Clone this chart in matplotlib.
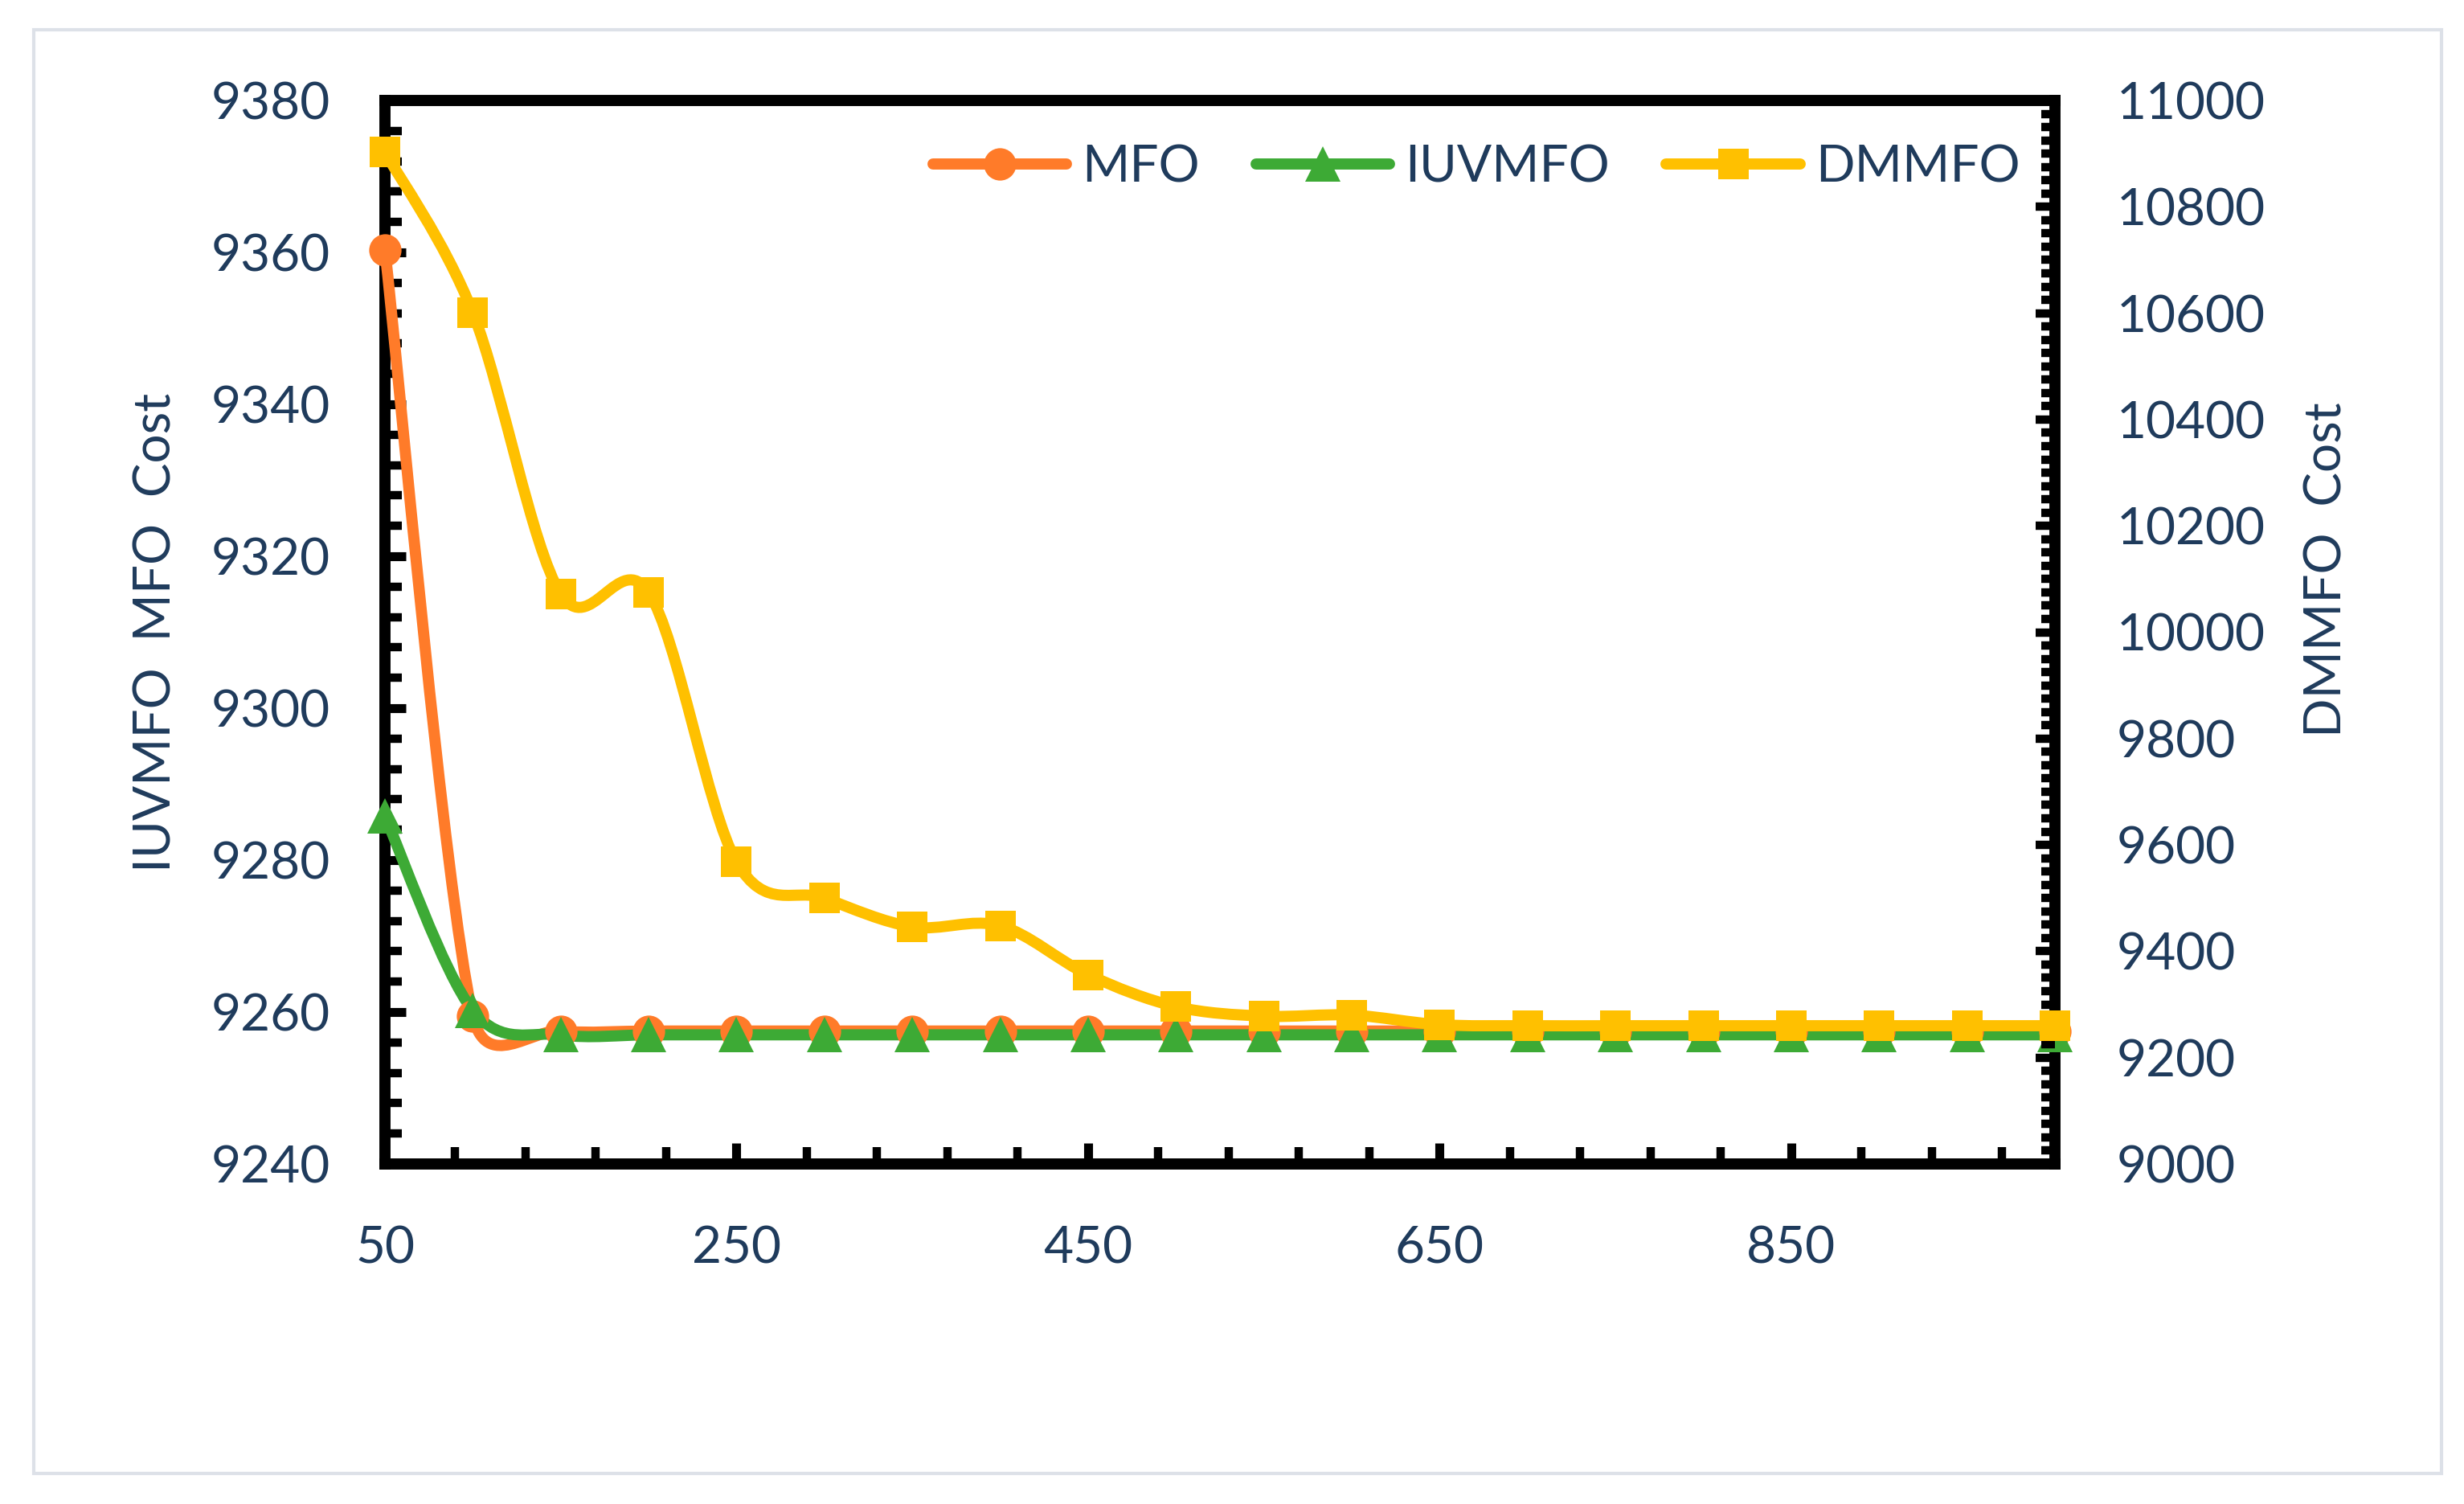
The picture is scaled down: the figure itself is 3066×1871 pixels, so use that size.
import numpy as np
import matplotlib
matplotlib.use("Agg")
import matplotlib.pyplot as plt
from matplotlib.path import Path
from matplotlib.patches import PathPatch, Rectangle
from matplotlib.lines import Line2D
from matplotlib.ticker import MultipleLocator, FixedLocator

plt.rcParams['font.family'] = ['Lato', 'DejaVu Sans']

# data
iters = [50, 100, 150, 200, 250, 300, 350, 400, 450, 500,
         550, 600, 650, 700, 750, 800, 850, 900, 950, 1000]
mfo = [9360.3, 9259.5, 9257.5, 9257.5, 9257.5, 9257.5, 9257.5, 9257.5, 9257.5, 9257.5,
       9257.5, 9257.5, 9257.5, 9257.5, 9257.5, 9257.5, 9257.5, 9257.5, 9257.5, 9257.5]
iuvmfo = [9285.8, 9260.2, 9257.0, 9257.0, 9257.0, 9257.0, 9257.0, 9257.0, 9257.0, 9257.0,
          9257.0, 9257.0, 9257.0, 9257.0, 9257.0, 9257.0, 9257.0, 9257.0, 9257.0, 9257.0]
dmmfo = [10903, 10601, 10072, 10075, 9568, 9500, 9446, 9448, 9356, 9296,
         9278, 9280, 9262, 9260, 9260, 9260, 9260, 9260, 9260, 9260]

txt = '#1F3B5C'
c_mfo = '#FF7B29'
c_iuv = '#3DAA35'
c_dmm = '#FFC000'


def smooth_path(ax, xs, ys):
    # excel-like smoothed line: catmull-rom beziers in screen space
    pts = ax.transData.transform(np.column_stack([xs, ys]))
    n = len(pts)
    verts = [pts[0]]
    codes = [Path.MOVETO]
    for i in range(n - 1):
        p0 = pts[i - 1] if i > 0 else pts[i]
        p1, p2 = pts[i], pts[i + 1]
        p3 = pts[i + 2] if i + 2 < n else pts[i + 1]
        d12 = np.hypot(*(p2 - p1))
        t1 = (p2 - p0) / 6.
        t2 = (p3 - p1) / 6.
        lim = 2. / 3. * d12
        for t in (t1, t2):
            L = np.hypot(*t)
            if L > lim and L > 0:
                t *= lim / L
        verts += [p1 + t1, p2 - t2, p2]
        codes += [Path.CURVE4] * 3
    verts = ax.transData.inverted().transform(np.array(verts))
    return Path(verts, codes)


W, H = 3066, 1871
fig = plt.figure(figsize=(W / 100, H / 100), dpi=100)

# light chart-area border
fig.patches.append(Rectangle((42 / W, 1 - 1833 / H), (3038 - 42) / W, (1833 - 37) / H,
                             transform=fig.transFigure, fill=False,
                             edgecolor='#DDE1E8', lw=3))

x0, x1, ytop, ybot = 479, 2557, 125, 1448
ax = fig.add_axes([x0 / W, 1 - ybot / H, (x1 - x0) / W, (ybot - ytop) / H])
ax2 = ax.twinx()

ax.set_xlim(50, 1000)
ax.set_ylim(9240, 9380)
ax2.set_ylim(9000, 11000)

lw = 10
msz = {'o': 29, '^': 32, 's': 28}
for a, ys, col, mk in [(ax, mfo, c_mfo, 'o'), (ax, iuvmfo, c_iuv, '^'),
                       (ax2, dmmfo, c_dmm, 's')]:
    a.add_patch(PathPatch(smooth_path(a, iters, ys), fill=False, edgecolor=col,
                          lw=lw, capstyle='round', joinstyle='round',
                          zorder=4, clip_on=False))
    a.plot(iters, ys, ls='none', marker=mk, ms=msz[mk], color=col, mec=col, mew=0,
           zorder=5, clip_on=False)

# frame
for s in ['left', 'right', 'top', 'bottom']:
    ax.spines[s].set_linewidth(10)
    ax.spines[s].set_color('black')
    ax2.spines[s].set_visible(False)

fs = 46
ax.xaxis.set_major_locator(FixedLocator([50, 250, 450, 650, 850]))
ax.xaxis.set_minor_locator(FixedLocator(np.arange(90, 1000, 40)))
ax.yaxis.set_major_locator(MultipleLocator(20))
ax.yaxis.set_minor_locator(MultipleLocator(4))
ax2.yaxis.set_major_locator(MultipleLocator(200))
ax2.yaxis.set_minor_locator(MultipleLocator(25))

ax.tick_params(which='both', direction='in', top=False, right=False, color='black')
ax.tick_params(which='major', length=19, width=8)
ax.tick_params(which='minor', length=15, width=7.5)
ax.tick_params(axis='y', which='major', labelsize=fs, labelcolor=txt, pad=49)
ax.tick_params(axis='x', which='major', labelsize=fs, labelcolor=txt, pad=55)
ax2.tick_params(which='both', direction='in', color='black')
ax2.tick_params(which='major', length=17, width=7.5, labelsize=fs, labelcolor=txt, pad=55)
ax2.tick_params(which='minor', length=12, width=7.5)

ax.set_ylabel('IUVMFO  MFO  Cost', fontsize=fs, color=txt)
ax.yaxis.set_label_coords(-0.123, 0.5)
ax2.set_ylabel('DMMFO  Cost', fontsize=fs, color=txt)
ax2.yaxis.set_label_coords(1.149, 0.559)

handles = [Line2D([], [], color=c_mfo, lw=lw, marker='o', ms=msz['o'], mew=0, solid_capstyle='round'),
           Line2D([], [], color=c_iuv, lw=lw, marker='^', ms=msz['^'], mew=0, solid_capstyle='round'),
           Line2D([], [], color=c_dmm, lw=lw, marker='s', ms=msz['s'], mew=0, solid_capstyle='round')]
leg = ax2.legend(handles, ['MFO', 'IUVMFO', 'DMMFO'], ncol=3, frameon=False,
                 loc='center right', bbox_to_anchor=(0.979, 0.937), borderpad=0,
                 borderaxespad=0, handlelength=2.6, handletextpad=0.3, columnspacing=1.1,
                 fontsize=fs)
for t in leg.get_texts():
    t.set_color(txt)

fig.savefig('out.png', dpi=100, facecolor='white')
